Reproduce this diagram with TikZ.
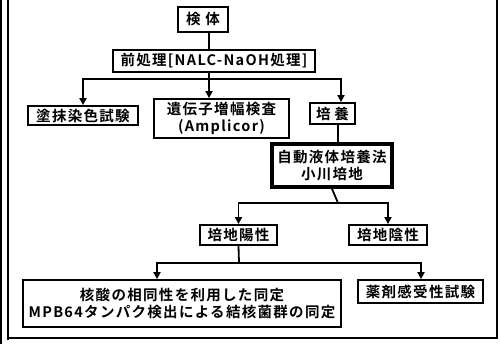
\documentclass[tikz,border=0pt]{standalone}
\usepackage{fontspec}
\setmainfont{Noto Sans CJK JP}[BoldFont={Noto Sans CJK JP Bold}]
\usetikzlibrary{arrows.meta}
\begin{document}
\begin{tikzpicture}[x=1pt,y=-1pt,
  box/.style={draw,line width=1.8pt,inner sep=0pt,align=center,
    font=\fontsize{14.5}{16.5}\selectfont\bfseries\addfontfeatures{LetterSpace=9}},
  thickbox/.style={box,line width=3.6pt},
  conn/.style={line width=1.8pt},
  arr/.style={conn,-{Triangle[width=7pt,length=7pt]}},
  frame/.style={line width=1.6pt}]
\useasboundingbox (0,0) rectangle (500,344);
% frame
\draw[frame] (1,0) -- (1,344);
\draw[frame] (8,0) -- (8,340) ;
\draw[frame] (8,338) -- (497,338) -- (497,0);
% nodes
\node[box,minimum width=50pt,minimum height=25pt] (kentai) at (203,19.5) {検\hspace{5pt}体};
\node[box,minimum width=202pt,minimum height=22pt] (pre) at (214,61) {前処理[NALC-NaOH処理]};
\node[box,minimum width=110pt,minimum height=19pt] (smear) at (83,115.5) {塗抹染色試験};
\node[box,minimum width=135pt,minimum height=39pt] (gene) at (221.5,118.5) {遺伝子増幅検査\\(Amplicor)};
\node[box,minimum width=45pt,minimum height=21pt] (cult) at (332.5,113.5) {培\hspace{4pt}養};
\node[thickbox,minimum width=120pt,minimum height=43pt] (auto) at (332,165.5) {自動液体培養法\\小川培地};
\node[box,minimum width=77pt,minimum height=20pt] (pos) at (238.5,235) {培地陽性};
\node[box,minimum width=78pt,minimum height=20pt] (neg) at (388,235) {培地陰性};
\node[box,minimum width=318pt,minimum height=47pt] (nuc) at (182,303.5) {核酸の相同性を利用した同定\\MPB64タンパク検出による結核菌群の同定};
\node[box,minimum width=125pt,minimum height=23pt] (drug) at (420.5,291.5) {薬剤感受性試験};
% bus coordinates
\coordinate (b1) at (209,79);
\coordinate (b2) at (338,203);
\coordinate (b3) at (239,263);
% connectors
\draw[conn] (209,0 |- kentai.south) -- (b1 |- pre.north);
\draw[conn] (b1 |- pre.south) -- (b1);
\draw[arr] (b1) -| (smear.north);
\draw[arr] (b1) -- (b1 |- gene.north);
\draw[arr] (b1) -| (341,0 |- cult.north);
\draw[conn] (338,0 |- cult.south) -- (338,0 |- auto.north);
\draw[conn] (auto.south) -- (b2);
\draw[arr] (b2) -| (pos.north);
\draw[arr] (b2) -| (neg.north);
\draw[conn] (pos.south) -- (b3);
\draw[arr] (b3) -| (157,0 |- nuc.north);
\draw[arr] (b3) -| (421,0 |- drug.north);
\end{tikzpicture}
\end{document}
